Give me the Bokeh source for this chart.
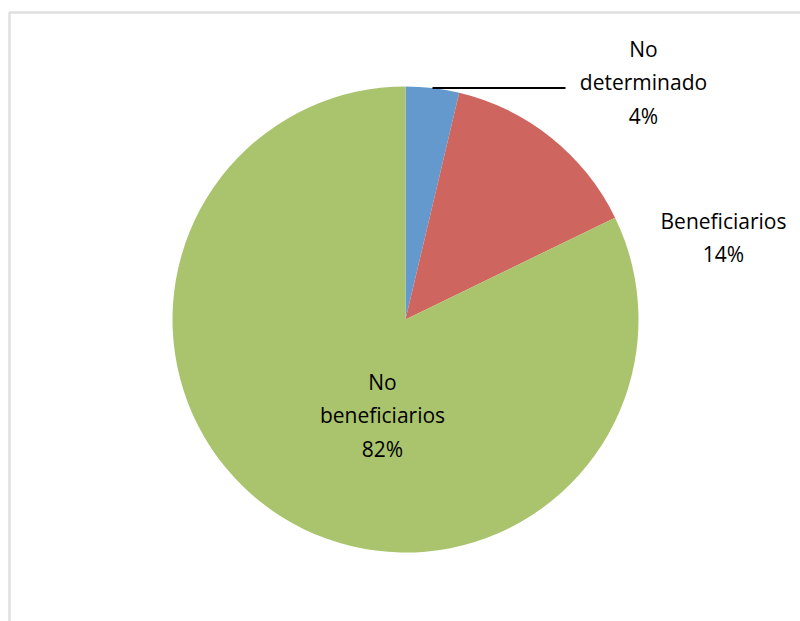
import math
from bokeh.plotting import figure
from bokeh.models import Range1d, ColumnDataSource, BoxAnnotation
from bokeh.core.properties import value
from bokeh.embed import file_html
from bokeh.resources import INLINE

# ---- data ----
categories = ["No determinado", "Beneficiarios", "No beneficiarios"]
label_lines = ["No\ndeterminado", "Beneficiarios", "No\nbeneficiarios"]
shares = [3.7, 14.1, 82.2]
colors = ["#6399CC", "#CE665F", "#AAC46D"]

# ---- layout (pixels) ----
W, H = 800, 621
CX, CY, R = 405, H - 319, 233
# label centers (pixel coords, y from top)
label_pos = [(643, 82), (723, 237), (382, 415)]

p = figure(width=W, height=H, output_backend="svg", toolbar_location=None,
           x_range=Range1d(0, W), y_range=Range1d(0, H), min_border=0)
p.axis.visible = False
p.grid.visible = False
p.outline_line_color = None
p.background_fill_color = "white"
p.border_fill_color = "white"

total = sum(shares)
starts, ends, mids = [], [], []
a = math.pi / 2
for s in shares:
    sweep = 2 * math.pi * s / total
    ends.append(a)
    starts.append(a - sweep)
    mids.append(a - sweep / 2)
    a -= sweep

src = ColumnDataSource(dict(x=[CX] * 3, y=[CY] * 3, start=starts, end=ends, color=colors))
p.wedge(x="x", y="y", radius=R, start_angle="start", end_angle="end",
        fill_color="color", line_color=None, source=src)

# chart area border (cut at right/bottom)
p.add_layout(BoxAnnotation(left=9, right=W + 50, top=H - 12, bottom=-50,
                           fill_color=None, line_color="#999999", line_width=2.5))

# leader line for first slice
mx = CX + R * math.cos(mids[0])
my = CY + R * math.sin(mids[0])
p.line(x=[mx, 565], y=[my, my], line_color="black", line_width=2)

texts = [f"{lbl}\n{round(100 * s / total)}%" for lbl, s in zip(label_lines, shares)]
lx = [q[0] for q in label_pos]
ly = [H - q[1] for q in label_pos]
p.text(x=lx, y=ly, text=texts, text_align="center", text_baseline="middle",
       text_font=value("Open Sans"), text_font_size="21px", text_color="black",
       text_line_height=1.2)

open("out.html", "w").write(file_html(p, INLINE))
